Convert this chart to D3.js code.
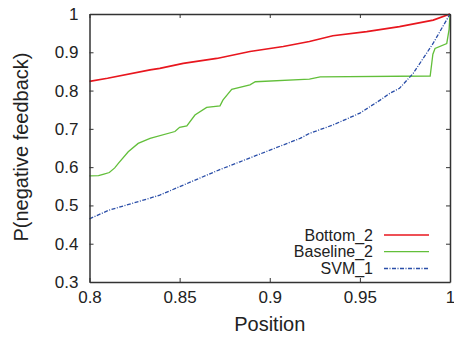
<!DOCTYPE html>
<html>
<head>
<meta charset="utf-8">
<script src="https://cdn.jsdelivr.net/npm/d3@7"></script>
<style>
  body { margin: 0; background: #fff; }
  text { font-family: "Liberation Sans", Arial, sans-serif; fill: #222; }
</style>
</head>
<body>
<div id="chart"></div>
<script>
// data
var xTicks = [0.8, 0.85, 0.9, 0.95, 1];
var yTicks = [0.3, 0.4, 0.5, 0.6, 0.7, 0.8, 0.9, 1];

var bottomX = [0.8, 0.81, 0.8336, 0.839, 0.852, 0.8706, 0.889, 0.9075, 0.922, 0.935, 0.9538, 0.972, 0.9907, 1.0];
var bottomY = [0.824, 0.832, 0.854, 0.858, 0.871, 0.884, 0.902, 0.915, 0.928, 0.943, 0.954, 0.967, 0.984, 1.0];

var baseX = [0.8, 0.805, 0.808, 0.811, 0.814, 0.816, 0.8215, 0.827, 0.8336, 0.8474, 0.85, 0.854, 0.8585, 0.865, 0.8724, 0.874, 0.8789, 0.889, 0.892, 0.922, 0.928, 0.989, 0.9905, 0.9917, 0.9982, 0.9995, 1.0];
var baseY = [0.577, 0.578, 0.582, 0.586, 0.598, 0.61, 0.64, 0.662, 0.675, 0.693, 0.704, 0.708, 0.736, 0.756, 0.76, 0.775, 0.803, 0.815, 0.823, 0.83, 0.836, 0.838, 0.895, 0.91, 0.923, 0.96, 1.0];

var svmX = [0.8, 0.811, 0.8336, 0.839, 0.872, 0.8835, 0.9168, 0.922, 0.935, 0.95, 0.9612, 0.9667, 0.972, 0.9796, 0.9906, 1.0];
var svmY = [0.465, 0.488, 0.519, 0.527, 0.593, 0.614, 0.675, 0.688, 0.71, 0.741, 0.775, 0.793, 0.806, 0.845, 0.923, 1.0];

var names = ["Bottom_2", "Baseline_2", "SVM_1"];
var colors = ["#e8161e", "#62bf3a", "#2a4ea8"];

var width = 454, height = 338,
    margin = {left: 89.5, right: 4, top: 14, bottom: 56};

var svg = d3.select("#chart").append("svg")
    .attr("width", width).attr("height", height);

var x = d3.scaleLinear().domain([0.8, 1]).range([margin.left, width - margin.right]);
var y = d3.scaleLinear().domain([0.3, 1]).range([height - margin.bottom, margin.top]);

var series = [
  {name: names[0], xs: bottomX, ys: bottomY, color: colors[0], w: 1.6, dash: null},
  {name: names[1], xs: baseX, ys: baseY, color: colors[1], w: 1.3, dash: null},
  {name: names[2], xs: svmX, ys: svmY, color: colors[2], w: 1.3, dash: "4,1.5,1,1.5"}
];

var line = d3.line()
    .x(function (d) { return x(d[0]); })
    .y(function (d) { return y(d[1]); });

series.forEach(function (s) {
  svg.append("path")
    .datum(d3.zip(s.xs, s.ys))
    .attr("fill", "none")
    .attr("stroke", s.color)
    .attr("stroke-width", s.w)
    .attr("stroke-dasharray", s.dash)
    .attr("d", line);
});

// axes, ticks pointing in, mirrored on top / right
var tl = 4;
svg.append("g").attr("transform", "translate(0," + y(0.3) + ")")
  .call(d3.axisBottom(x).tickValues(xTicks).tickSizeInner(-tl).tickSizeOuter(0).tickPadding(9)
        .tickFormat(function (d) { return d3.format("")(d); }));
svg.append("g").attr("transform", "translate(0," + y(1) + ")")
  .call(d3.axisTop(x).tickValues(xTicks).tickSizeInner(-tl).tickSizeOuter(0).tickFormat(""));
svg.append("g").attr("transform", "translate(" + x(0.8) + ",0)")
  .call(d3.axisLeft(y).tickValues(yTicks).tickSizeInner(-tl).tickSizeOuter(0).tickPadding(11)
        .tickFormat(function (d) { return d3.format("")(d); }));
svg.append("g").attr("transform", "translate(" + x(1) + ",0)")
  .call(d3.axisRight(y).tickValues(yTicks).tickSizeInner(-tl).tickSizeOuter(0).tickFormat(""));

svg.selectAll(".domain").attr("stroke", "#333").attr("stroke-width", 1.5);
svg.selectAll(".tick line").attr("stroke", "#333");
svg.selectAll(".tick text").style("font-size", "17px").attr("fill", "#222")
  .style("font-family", "'Liberation Sans', Arial, sans-serif");

// axis titles
svg.append("text")
  .attr("x", x(0.9)).attr("y", 331)
  .attr("text-anchor", "middle").style("font-size", "20px")
  .text("Position");
svg.append("text")
  .attr("transform", "translate(28,147) rotate(-90)")
  .attr("text-anchor", "middle").style("font-size", "20px")
  .text("P(negative feedback)");

// legend
var legY = [235, 251.7, 268.5];
var leg = svg.selectAll(".leg").data(series).enter().append("g").attr("class", "leg");
leg.append("text")
  .attr("x", 373).attr("y", function (d, i) { return legY[i]; })
  .attr("dy", "0.35em").attr("text-anchor", "end").style("font-size", "16px")
  .text(function (d) { return d.name; });
leg.append("line")
  .attr("x1", 384).attr("x2", 429)
  .attr("y1", function (d, i) { return legY[i]; })
  .attr("y2", function (d, i) { return legY[i]; })
  .attr("stroke", function (d) { return d.color; })
  .attr("stroke-width", function (d) { return d.w; })
  .attr("stroke-dasharray", function (d) { return d.dash; });
</script>
</body>
</html>
